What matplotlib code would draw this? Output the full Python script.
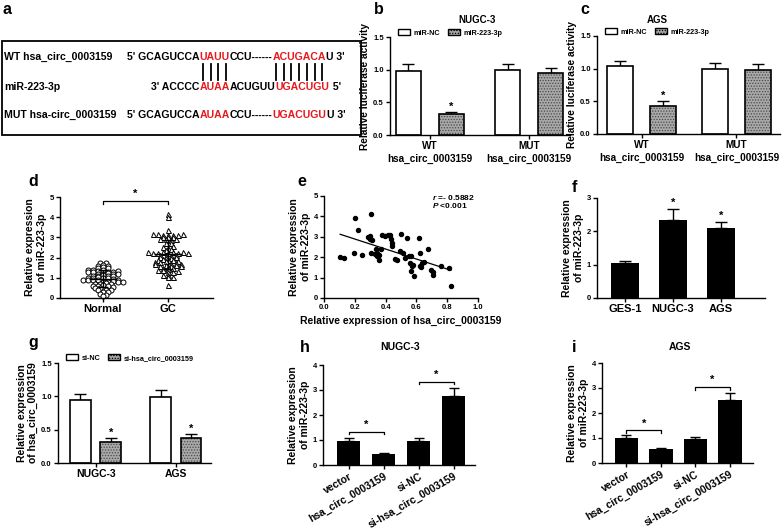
import numpy as np
import matplotlib
matplotlib.use("Agg")
import matplotlib.pyplot as plt
from matplotlib.patches import Patch, Rectangle
from matplotlib.font_manager import FontProperties

plt.rcParams['font.family'] = ['Liberation Sans', 'DejaVu Sans']
plt.rcParams['font.weight'] = 'bold'
plt.rcParams['axes.labelweight'] = 'bold'
plt.rcParams['axes.linewidth'] = 1.0
plt.rcParams['axes.facecolor'] = 'none'
plt.rcParams['hatch.linewidth'] = 0.6
plt.rcParams['mathtext.fontset'] = 'custom'
plt.rcParams['mathtext.it'] = 'Liberation Sans:italic:bold'
plt.rcParams['mathtext.rm'] = 'Liberation Sans:bold'

W, H = 784, 532
RED = '#e8191e'
GRAY = '#a8a8a8'

# ---------------- data ----------------
# a: sequences (text, is_red)
wt_label = "WT hsa_circ_0003159"
mir_label = "miR-223-3p"
mut_label = "MUT hsa-circ_0003159"
wt_seq = [("5' GCAGUCCA", False), ("UAUU", True), ("CCU------", False), ("ACUGACA", True), ("U 3'", False)]
mir_seq = [("3' ACCCC", False), ("AUAA", True), ("ACUGUU", False), ("UGACUGU", True), (" 5'", False)]
mut_seq = [("5' GCAGUCCA", False), ("AUAA", True), ("CCU------", False), ("UGACUGU", True), ("U 3'", False)]

# b, c: luciferase activity
luc_groups = ["WT\nhsa_circ_0003159", "MUT\nhsa_circ_0003159"]
luc_legend = ["miR-NC", "miR-223-3p"]
nugc_nc = [0.98, 1.00]
nugc_nc_err = [0.11, 0.09]
nugc_mir = [0.32, 0.95]
nugc_mir_err = [0.035, 0.08]
ags_nc = [1.04, 0.99]
ags_nc_err = [0.08, 0.10]
ags_mir = [0.43, 0.98]
ags_mir_err = [0.08, 0.09]

# d: miR-223-3p in tissues
d_groups = ["Normal", "GC"]
normal_vals = [1.75, 1.72, 1.60, 1.62, 1.58, 1.50, 1.52, 1.48, 1.40, 1.38, 1.36, 1.41,
               1.30, 1.28, 1.31, 1.32, 1.27, 1.20, 1.18, 1.22, 1.21, 1.17, 1.10, 1.08,
               1.12, 1.11, 1.07, 1.00, 0.98, 1.02, 1.01, 0.97, 0.90, 0.88, 0.92, 0.91,
               0.87, 0.89, 0.80, 0.78, 0.82, 0.81, 0.79, 0.70, 0.68, 0.72, 0.71, 0.60,
               0.58, 0.62, 0.61, 0.50, 0.48, 0.52, 0.40, 0.42, 0.38, 0.30, 0.28, 0.20,
               0.15, 0.10]
gc_vals = [4.15, 4.02, 3.38, 3.15, 3.15, 3.12, 3.13, 3.14, 3.12, 3.15, 3.02, 3.00,
           3.03, 2.90, 2.92, 2.88, 2.93, 2.72, 2.70, 2.52, 2.50, 2.55, 2.40, 2.42,
           2.27, 2.25, 2.25, 2.26, 2.24, 2.27, 2.25, 2.26, 2.24, 2.12, 2.10, 2.10,
           2.13, 2.02, 2.00, 1.98, 2.01, 1.90, 1.92, 1.88, 1.90, 1.80, 1.82, 1.78,
           1.81, 1.70, 1.72, 1.68, 1.70, 1.60, 1.62, 1.58, 1.61, 1.59, 1.50, 1.52,
           1.48, 1.40, 1.38, 1.42, 1.30, 1.32, 1.28, 1.15, 1.13, 1.05, 1.03, 0.65]

# e: correlation
e_x = [0.105, 0.132, 0.204, 0.196, 0.220, 0.244, 0.308, 0.288, 0.297, 0.301, 0.314,
       0.308, 0.330, 0.336, 0.347, 0.345, 0.356, 0.358, 0.369, 0.374, 0.396, 0.418,
       0.429, 0.435, 0.440, 0.440, 0.462, 0.477, 0.499, 0.495, 0.516, 0.527, 0.538,
       0.549, 0.560, 0.565, 0.571, 0.565, 0.576, 0.582, 0.615, 0.622, 0.622, 0.631,
       0.637, 0.648, 0.677, 0.692, 0.710, 0.710, 0.758, 0.813, 0.824]
e_y = [2.02, 1.97, 3.93, 2.21, 3.33, 2.10, 4.10, 3.00, 3.03, 2.87, 2.84,
       2.21, 2.18, 2.38, 2.21, 2.08, 2.13, 1.85, 2.38, 3.08, 3.03, 3.11,
       3.07, 2.87, 2.70, 2.54, 1.89, 1.85, 3.16, 2.30, 2.21, 1.97, 2.95,
       2.05, 1.72, 2.05, 1.56, 1.31, 1.64, 1.07, 2.95, 2.21, 1.56, 1.52,
       1.72, 1.77, 2.41, 1.39, 1.26, 1.15, 1.56, 1.48, 0.61]

# f: cell lines
f_cells = ["GES-1", "NUGC-3", "AGS"]
f_vals = [1.04, 2.35, 2.09]
f_err = [0.08, 0.32, 0.19]

# g: knockdown efficiency
g_groups = ["NUGC-3", "AGS"]
g_legend = ["si-NC", "si-hsa_circ_0003159"]
g_nc = [0.95, 0.99]
g_nc_err = [0.09, 0.10]
g_si = [0.32, 0.37]
g_si_err = [0.05, 0.06]

# h, i: miR-223-3p after overexpression / knockdown
hi_labels = ["vector", "hsa_circ_0003159", "si-NC", "si-hsa_circ_0003159"]
h_vals = [0.97, 0.44, 0.97, 2.77]
h_err = [0.10, 0.06, 0.11, 0.33]
i_vals = [1.00, 0.57, 0.96, 2.53]
i_err = [0.12, 0.05, 0.08, 0.27]

# ---------------- figure ----------------
fig = plt.figure(figsize=(W / 100, H / 100), dpi=100)


def px_axes(l, t, r, b):
    return fig.add_axes([l / W, 1 - b / H, (r - l) / W, (b - t) / H])


ov = fig.add_axes([0, 0, 1, 1], zorder=-5)
ov.set_xlim(0, W)
ov.set_ylim(H, 0)
ov.axis('off')
renderer = fig.canvas.get_renderer()


def letter(x, y, s):
    ov.text(x, y, s, fontsize=11.5, fontweight='bold', va='center', ha='left')


def style(ax, fs=5.5):
    for sp in ['top', 'right']:
        ax.spines[sp].set_visible(False)
    ax.tick_params(direction='out', length=3, width=1, pad=1.5)
    ax.tick_params(axis='y', labelsize=fs)


# ---- a ----
letter(3, 9, 'a')
ov.add_patch(Rectangle((2, 41), 359, 94, fill=False, lw=1.3, edgecolor='black'))
FS_SEQ = 7.6
fp = FontProperties(family='Liberation Sans', weight='bold', size=FS_SEQ)


def tw(s):
    return renderer.get_text_width_height_descent(s, fp, ismath=False)[0]


def seq_row(x, y, parts):
    starts = []
    for s, red in parts:
        ov.text(x, y, s, fontproperties=fp, color=RED if red else 'black', va='center', ha='left')
        starts.append(x)
        x += tw(s)
    return starts


for lab, yy in [(wt_label, 57), (mir_label, 87), (mut_label, 115)]:
    ov.text(4, yy, lab, fontproperties=fp, va='center', ha='left')

wt_starts = seq_row(127, 57, wt_seq)
# miR-223-3p placed so that its red seed sits under the WT red site
mir_x0 = wt_starts[1] - tw(mir_seq[0][0])
seq_row(mir_x0, 87, mir_seq)
seq_row(127, 115, mut_seq)
for k in (1, 3):
    s = wt_seq[k][0]
    for j in range(len(s)):
        cx = wt_starts[k] + tw(s[:j]) + tw(s[j]) / 2
        ov.plot([cx, cx], [64, 80], color='black', lw=1.3)


# ---- b, c ----
def luc_panel(ax, nc, nc_err, mir, mir_err, off, w):
    x = np.arange(len(luc_groups))
    ax.bar(x - off, nc, w, color='white', edgecolor='black', lw=1.2, zorder=2)
    ax.bar(x + off, mir, w, color=GRAY, edgecolor='#4a4a4a', lw=0, hatch='......', zorder=2)
    ax.bar(x + off, mir, w, color='none', edgecolor='black', lw=1.2, zorder=3)
    ax.errorbar(x - off, nc, yerr=[np.zeros(len(x)), nc_err], fmt='none', ecolor='black',
                elinewidth=1, capsize=4, capthick=1, zorder=1)
    ax.errorbar(x + off, mir, yerr=[np.zeros(len(x)), mir_err], fmt='none', ecolor='black',
                elinewidth=1, capsize=4, capthick=1, zorder=1)
    ax.text(x[0] + off, mir[0] + mir_err[0] + 0.07, '*', ha='center', va='center', fontsize=8)
    ax.set_ylim(0, 1.5)
    ax.set_yticks([0, 0.5, 1.0, 1.5])
    ax.set_yticklabels(['0.0', '0.5', '1.0', '1.5'])
    ax.set_xticks(x)
    ax.set_xticklabels(luc_groups, fontsize=7.2, linespacing=1.3)
    ax.set_ylabel('Relative luciferase activity', fontsize=7.3, labelpad=2)
    style(ax)


def luc_legend_at(ax, x, y, labels):
    hs = [Patch(facecolor='white', edgecolor='black', lw=1),
          Patch(facecolor=GRAY, edgecolor='black', lw=1, hatch='......')]
    ax.legend(hs, labels, loc='center left', bbox_to_anchor=(x / W, 1 - y / H),
              bbox_transform=fig.transFigure, ncol=2, frameon=False, fontsize=5.2,
              handlelength=1.7, handleheight=0.9, handletextpad=0.5, columnspacing=1.0,
              borderpad=0, borderaxespad=0)


axb = px_axes(390, 37, 570, 135)
luc_panel(axb, nugc_nc, nugc_nc_err, nugc_mir, nugc_mir_err, 0.215, 0.25)
axb.set_xlim(-0.40, 1.41)
luc_legend_at(axb, 398, 33, luc_legend)
letter(374, 9, 'b')
ov.text(477, 20, 'NUGC-3', fontsize=7, ha='center', va='center')

axc = px_axes(597, 36, 780, 134)
luc_panel(axc, ags_nc, ags_nc_err, ags_mir, ags_mir_err, 0.224, 0.276)
axc.set_xlim(-0.47, 1.46)
luc_legend_at(axc, 605, 32, luc_legend)
letter(580, 9, 'c')
ov.text(657, 20, 'AGS', fontsize=7, ha='center', va='center')


# ---- d ----
def swarm(vals, bin_h, step):
    vals = np.asarray(vals)
    bins = np.floor(vals / bin_h)
    offs = np.zeros(len(vals))
    for b in np.unique(bins):
        idx = np.where(bins == b)[0]
        n = len(idx)
        offs[idx] = (np.arange(n) - (n - 1) / 2) * step
    return offs


axd = px_axes(60, 197, 213, 298)
for c, vals, mk in [(0, normal_vals, 'o'), (1, gc_vals, '^')]:
    v = np.asarray(vals)
    axd.plot(c + swarm(v, 0.13, 0.078), v, mk, ms=3.6, mfc='white', mec='black', mew=0.7,
             linestyle='none', zorder=2, clip_on=False)
    m, sd = v.mean(), v.std(ddof=1)
    axd.hlines(m, c - 0.21, c + 0.21, color='black', lw=1, zorder=3)
    axd.errorbar(c, m, yerr=sd, fmt='none', ecolor='black', elinewidth=1, capsize=3.5,
                 capthick=1, zorder=3)
axd.plot([0, 0, 1, 1], [4.65, 4.8, 4.8, 4.65], color='black', lw=0.9, clip_on=False)
axd.text(0.5, 5.15, '*', ha='center', va='center', fontsize=8, clip_on=False)
axd.set_xlim(-0.66, 1.69)
axd.set_ylim(0, 5)
axd.set_yticks(range(6))
axd.set_xticks([0, 1])
axd.set_xticklabels(d_groups, fontsize=8)
axd.set_ylabel('Relative expression\nof miR-223-3p', fontsize=7.5, labelpad=2)
style(axd)
letter(28, 182, 'd')

# ---- e ----
axe = px_axes(324, 196, 478, 298)
axe.plot(e_x, e_y, 'o', ms=2.9, color='black', linestyle='none', clip_on=False)
slope, intercept = np.polyfit(e_x, e_y, 1)
xs = np.array([min(e_x), max(e_x)])
axe.plot(xs, slope * xs + intercept, color='black', lw=0.9)
axe.set_xlim(0, 1.0)
axe.set_ylim(0, 5)
axe.set_xticks([0, 0.2, 0.4, 0.6, 0.8, 1.0])
axe.set_xticklabels(['0.0', '0.2', '0.4', '0.6', '0.8', '1.0'], fontsize=5.5)
axe.set_yticks(range(6))
axe.set_xlabel('Relative expression of hsa_circ_0003159', fontsize=7.5, labelpad=3)
axe.set_ylabel('Relative expression\nof miR-223-3p', fontsize=7.5, labelpad=2)
style(axe)
ov.text(432, 197, r'$r$ =- 0.5882', fontsize=6, ha='left', va='center')
ov.text(432, 206, r'$P$ <0.001', fontsize=6, ha='left', va='center')
letter(297, 182, 'e')

# ---- f ----
axf = px_axes(597, 198, 765, 298)
xf = np.arange(len(f_cells))
axf.bar(xf, f_vals, 0.58, color='black', zorder=2)
axf.errorbar(xf, f_vals, yerr=[np.zeros(3), f_err], fmt='none', ecolor='black', elinewidth=1,
             capsize=4, capthick=1, zorder=1)
for k in (1, 2):
    axf.text(xf[k], f_vals[k] + f_err[k] + 0.17, '*', ha='center', va='center', fontsize=8)
axf.set_xlim(-0.58, 2.92)
axf.set_ylim(0, 3)
axf.set_yticks(range(4))
axf.set_xticks(xf)
axf.set_xticklabels(f_cells, fontsize=8)
axf.set_ylabel('Relative expression\nof miR-223-3p', fontsize=7.5, labelpad=2)
style(axf)
letter(572, 187, 'f')

# ---- g ----
axg = px_axes(58, 363, 211, 463)
xg = np.arange(len(g_groups))
og, wg = 0.19, 0.26
axg.bar(xg - og, g_nc, wg, color='white', edgecolor='black', lw=1.2, zorder=2)
axg.bar(xg + og, g_si, wg, color=GRAY, edgecolor='#4a4a4a', lw=0, hatch='......', zorder=2)
axg.bar(xg + og, g_si, wg, color='none', edgecolor='black', lw=1.2, zorder=3)
axg.errorbar(xg - og, g_nc, yerr=[np.zeros(2), g_nc_err], fmt='none', ecolor='black',
             elinewidth=1, capsize=4, capthick=1, zorder=1)
axg.errorbar(xg + og, g_si, yerr=[np.zeros(2), g_si_err], fmt='none', ecolor='black',
             elinewidth=1, capsize=4, capthick=1, zorder=1)
for k in range(2):
    axg.text(xg[k] + og, g_si[k] + g_si_err[k] + 0.08, '*', ha='center', va='center', fontsize=8)
axg.set_xlim(-0.47, 1.44)
axg.set_ylim(0, 1.5)
axg.set_yticks([0, 0.5, 1.0, 1.5])
axg.set_yticklabels(['0.0', '0.5', '1.0', '1.5'])
axg.set_xticks(xg)
axg.set_xticklabels(g_groups, fontsize=7.5)
axg.set_ylabel('Relative expression\nof hsa_circ_0003159', fontsize=7.5, labelpad=2)
style(axg)
luc_legend_at(axg, 66, 358, g_legend)
letter(28, 343, 'g')


# ---- h, i ----
def oe_panel(ax, vals, err, w, xlim, br1, br2):
    x = np.arange(len(hi_labels))
    ax.bar(x, vals, w, color='black', zorder=2)
    ax.errorbar(x, vals, yerr=[np.zeros(4), err], fmt='none', ecolor='black', elinewidth=1,
                capsize=3.5, capthick=1, zorder=1)
    for (a, b, yb, ys) in [(0, 1) + br1, (2, 3) + br2]:
        ax.plot([a, a, b, b], [yb - 0.1, yb, yb, yb - 0.1], color='black', lw=0.9, clip_on=False)
        ax.text((a + b) / 2, ys, '*', ha='center', va='center', fontsize=8, clip_on=False)
    ax.set_xlim(*xlim)
    ax.set_ylim(0, 4)
    ax.set_yticks(range(5))
    ax.set_xticks(x)
    ax.set_xticklabels(hi_labels, fontsize=7.5, rotation=30, ha='right', rotation_mode='anchor')
    ax.set_ylabel('Relative expression\nof miR-223-3p', fontsize=7.5, labelpad=2)
    style(ax)


axh = px_axes(323, 365, 475, 465)
oe_panel(axh, h_vals, h_err, 0.66, (-0.73, 3.61), (1.33, 1.62), (3.33, 3.62))
letter(300, 347, 'h')
ov.text(400, 347, 'NUGC-3', fontsize=7.5, ha='center', va='center')

axi = px_axes(602, 363, 753, 463)
oe_panel(axi, i_vals, i_err, 0.68, (-0.71, 3.67), (1.31, 1.58), (3.04, 3.31))
letter(572, 347, 'i')
ov.text(680, 347, 'AGS', fontsize=7.5, ha='center', va='center')

fig.savefig('out.png', dpi=100)
